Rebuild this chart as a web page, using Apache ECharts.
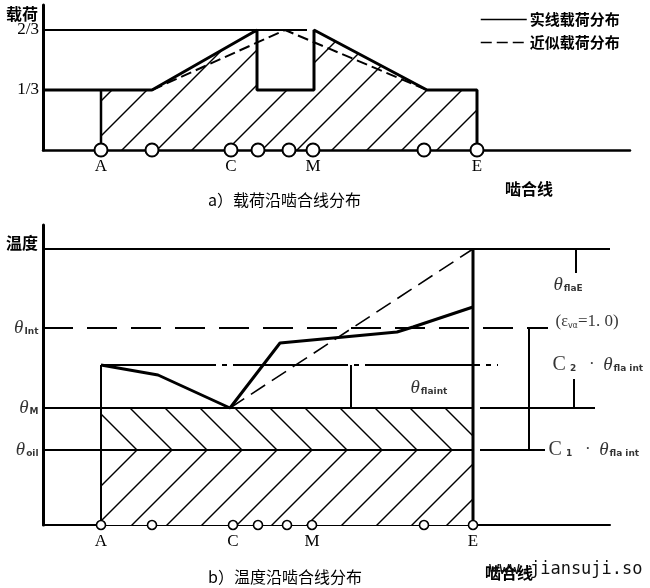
<!DOCTYPE html>
<html>
<head>
<meta charset="utf-8">
<script src="https://cdn.jsdelivr.net/npm/echarts@6/dist/echarts.min.js"></script>
<style>
html, body { margin: 0; padding: 0; background: #fff; }
#main { width: 650px; height: 588px; }
</style>
</head>
<body>
<div id="main"></div>
<script>
// a) 载荷沿啮合线分布  x: 啮合线位置, y: 载荷 (1 = 1/3)
var loadTicks = ['', '1/3', '2/3'];
var loadSolid = [[0, 1], [109, 1], [214, 2], [214, 1], [271, 1], [271, 2], [384, 1], [434, 1], [434, 0]];
var loadApprox = [[109, 1], [242, 2], [384, 1]];
var loadHatch = [[58, 0], [58, 1], [109, 1], [214, 2], [214, 1], [271, 1], [271, 2], [384, 1], [434, 1], [434, 0]];
var loadRef = [[0, 2], [264, 2]];
var loadA = [[58, 0], [58, 1]];
var pointsTop = [58, 109, 188, 215, 246, 270, 381, 434];
var pointNames = ['A', '', 'C', '', '', 'M', '', 'E'];

// b) 温度沿啮合线分布  y: 温度 (相对)
var tempMax = [[0, 92], [567, 92]];
var tempInt = [[0, 65.67], [505, 65.67]];
var tempFla = [[58, 53.33], [455, 53.33]];
var tempM = [[0, 39], [430, 39]];
var tempM2 = [[437, 39], [552, 39]];
var tempOil = [[0, 25], [430, 25]];
var tempOil2 = [[437, 25], [502, 25]];
var tempReal = [[58, 53.33], [115, 50], [187, 39], [237, 60.67], [354, 64.33], [370, 66], [430, 72.67]];
var tempApprox = [[187, 39], [430, 92]];
var edgeA = [[58, 0], [58, 53.33]];
var edgeE = [[430, 0], [430, 92]];
var dimLines = [
    [[308, 39], [308, 53.33]],
    [[486, 25], [486, 65.67]],
    [[533, 92], [533, 84]],
    [[531, 48.67], [531, 39]]
];
var bandM = [[58, 39], [430, 39]];
var bandOil = [[58, 25], [430, 25]];
var pointsBottom = [58, 109, 190, 215, 244, 269, 381, 430];
var levelLabels = [
    ['{th|θ}{sb|Int}', 65.67],
    ['{th|θ}{sb|M}', 39],
    ['{th|θ}{sb|oil}', 25]
];
var sideLabels = [
    ['{th|θ}{sb|flaE}', 510, 80],
    ['{tx|(}{ep|ε}{sv|vα}{tx|=1. 0)}', 512, 67.67],
    ['{cc|C}{sb| 2}{tx|   ·  }{th|θ}{sb|fla int}', 509, 53.33],
    ['{th|θ}{sb|flaint}', 367, 45.67],
    ['{cc|C}{sb| 1}{tx|   ·  }{th|θ}{sb|fla int}', 505, 25]
];

var dom = document.getElementById('main');
var chart = echarts.init(dom);

function hatch(dir, c, bg) {
    var cv = document.createElement('canvas');
    cv.width = 35;
    cv.height = 35;
    var g = cv.getContext('2d');
    if (bg) {
        g.fillStyle = bg;
        g.fillRect(0, 0, 35, 35);
    }
    g.strokeStyle = '#000';
    g.lineWidth = 1.4;
    for (var k = -2; k <= 2; k++) {
        var o = c + 35 * k;
        g.beginPath();
        if (dir === '/') {
            g.moveTo(o + 5, -5);
            g.lineTo(o - 40, 40);
        } else {
            g.moveTo(o - 5, -5);
            g.lineTo(o + 40, 40);
        }
        g.stroke();
    }
    return { image: cv, repeat: 'repeat' };
}

function seg(data, idx, width, type, name) {
    return {
        name: name,
        type: 'line',
        xAxisIndex: idx,
        yAxisIndex: idx,
        data: data,
        symbol: 'none',
        color: '#000',
        clip: false,
        silent: true,
        z: 3,
        lineStyle: { color: '#000', width: width, type: type || 'solid', cap: 'butt' }
    };
}

function area(data, idx, fill, z) {
    return {
        type: 'line',
        xAxisIndex: idx,
        yAxisIndex: idx,
        data: data,
        symbol: 'none',
        silent: true,
        z: z,
        lineStyle: { width: 0, opacity: 0 },
        areaStyle: { color: fill, opacity: 1 }
    };
}

var rich = {
    th: { fontFamily: 'Liberation Serif', fontStyle: 'italic', fontSize: 19, color: '#000' },
    sb: { fontFamily: 'DejaVu Sans', fontWeight: 'bold', fontSize: 9, color: '#000', padding: [8, 0, 0, 1] },
    sv: { fontFamily: 'DejaVu Sans', fontSize: 8, color: '#000', padding: [7, 0, 0, 0] },
    tx: { fontFamily: 'Liberation Serif', fontSize: 17, color: '#000' },
    ep: { fontFamily: 'Liberation Serif', fontSize: 16, color: '#000' },
    cc: { fontFamily: 'Liberation Serif', fontSize: 20, color: '#000' }
};

var series = [];
// hatching
series.push(area(loadHatch, 0, hatch('/', 27), 1));
series.push(area(bandM, 1, hatch('\\', 2), 1));
series.push(area(bandOil, 1, hatch('/', 27, '#fff'), 2));

// a) lines
series.push(seg(loadSolid, 0, 3, 'solid', '实线载荷分布'));
series.push(seg(loadApprox, 0, 2, [11, 5], '近似载荷分布'));
series.push(seg(loadRef, 0, 2));
series.push(seg(loadA, 0, 2.5));

// b) lines
series.push(seg(tempMax, 1, 2));
series.push(seg(tempInt, 1, 2, [30, 14]));
series.push(seg(tempFla, 1, 1.8, [115, 6, 5, 6]));
series.push(seg(tempM, 1, 2));
series.push(seg(tempM2, 1, 2));
series.push(seg(tempOil, 1, 2));
series.push(seg(tempOil2, 1, 2));
series.push(seg(tempReal, 1, 3));
series.push(seg(tempApprox, 1, 1.6, [17, 8]));
series.push(seg(edgeA, 1, 2));
series.push(seg(edgeE, 1, 3));
dimLines.forEach(function (d) {
    series.push(seg(d, 1, 2));
});

// contact points
function points(xs, idx, size, bw, dist) {
    return {
        type: 'scatter',
        xAxisIndex: idx,
        yAxisIndex: idx,
        symbol: 'circle',
        symbolSize: size,
        clip: false,
        silent: true,
        z: 5,
        itemStyle: { color: '#fff', borderColor: '#000', borderWidth: bw, opacity: 1 },
        label: {
            show: true,
            position: 'bottom',
            distance: dist,
            formatter: '{b}',
            fontFamily: 'Liberation Serif',
            fontSize: 17,
            color: '#000'
        },
        data: xs.map(function (x, i) {
            return { name: pointNames[i], value: [x, 0] };
        })
    };
}
series.push(points(pointsTop, 0, 13, 2, 1));
series.push(points(pointsBottom, 1, 9, 1.6, 3));

// text labels in part b)
series.push({
    type: 'scatter',
    xAxisIndex: 1,
    yAxisIndex: 1,
    symbolSize: 1,
    clip: false,
    silent: true,
    itemStyle: { color: 'rgba(0,0,0,0)' },
    label: { show: true, position: 'left', distance: 4, rich: rich },
    data: levelLabels.map(function (l) {
        return { value: [0, l[1]], label: { formatter: l[0] } };
    })
});
series.push({
    type: 'scatter',
    xAxisIndex: 1,
    yAxisIndex: 1,
    symbolSize: 1,
    clip: false,
    silent: true,
    itemStyle: { color: 'rgba(0,0,0,0)' },
    label: { show: true, position: 'right', distance: 0, rich: rich },
    data: sideLabels.map(function (l) {
        return { value: [l[1], l[2]], label: { formatter: l[0] } };
    })
});

var cjk = 'Noto Sans CJK SC';
var option = {
    backgroundColor: '#fff',
    animation: false,
    title: [
        { text: 'a）载荷沿啮合线分布', left: 203, top: 187, textStyle: { fontFamily: cjk, fontSize: 16, fontWeight: 'normal', color: '#000' } },
        { text: '啮合线', left: 500, top: 176, textStyle: { fontFamily: cjk, fontSize: 16, fontWeight: 'bold', color: '#000' } },
        { text: 'b）温度沿啮合线分布', left: 203, top: 564, textStyle: { fontFamily: cjk, fontSize: 16, fontWeight: 'normal', color: '#000' } },
        { text: '啮合线', left: 480, top: 560, textStyle: { fontFamily: cjk, fontSize: 16, fontWeight: 'bold', color: '#000' } },
        { text: 'www.jiansuji.so', left: 484, top: 556, textStyle: { fontFamily: 'DejaVu Sans Mono', fontSize: 17, fontWeight: 'normal', color: '#111' } }
    ],
    legend: {
        orient: 'vertical',
        left: 480,
        top: 12,
        padding: 0,
        itemWidth: 46,
        itemHeight: 14,
        itemGap: 8,
        data: ['实线载荷分布', '近似载荷分布'],
        lineStyle: { width: 1.5, color: '#000' },
        itemStyle: { opacity: 0 },
        textStyle: { fontFamily: cjk, fontSize: 15, fontWeight: 'bold', color: '#000', padding: [0, 0, 0, -2] }
    },
    grid: [
        { left: 43, top: 5, width: 587, height: 145 },
        { left: 43, top: 225, width: 567, height: 300 }
    ],
    xAxis: [
        {
            gridIndex: 0, type: 'value', min: 0, max: 587,
            axisLine: { show: true, lineStyle: { color: '#000', width: 2.5 } },
            axisTick: { show: false }, axisLabel: { show: false }, splitLine: { show: false }
        },
        {
            gridIndex: 1, type: 'value', min: 0, max: 567,
            axisLine: { show: true, lineStyle: { color: '#000', width: 2 } },
            axisTick: { show: false }, axisLabel: { show: false }, splitLine: { show: false }
        }
    ],
    yAxis: [
        {
            gridIndex: 0, type: 'value', min: 0, max: 2.4167, interval: 1,
            name: '载荷', nameLocation: 'end', nameGap: -15,
            nameTextStyle: { fontFamily: cjk, fontSize: 16, fontWeight: 'bold', color: '#000', align: 'right', verticalAlign: 'middle', padding: [0, 5, 0, 0] },
            axisLine: { show: true, lineStyle: { color: '#000', width: 3 } },
            axisTick: { show: false }, splitLine: { show: false },
            axisLabel: {
                showMaxLabel: false, margin: 4,
                fontFamily: 'Liberation Serif', fontSize: 17, color: '#000',
                formatter: function (v) { return loadTicks[v] || ''; }
            }
        },
        {
            gridIndex: 1, type: 'value', min: 0, max: 100,
            name: '温度', nameLocation: 'end', nameGap: -18,
            nameTextStyle: { fontFamily: cjk, fontSize: 16, fontWeight: 'bold', color: '#000', align: 'right', verticalAlign: 'middle', padding: [0, 5, 0, 0] },
            axisLine: { show: true, lineStyle: { color: '#000', width: 3 } },
            axisTick: { show: false }, axisLabel: { show: false }, splitLine: { show: false }
        }
    ],
    series: series
};

chart.setOption(option);
window.onresize = function () {
    chart.resize();
};
</script>
</body>
</html>
